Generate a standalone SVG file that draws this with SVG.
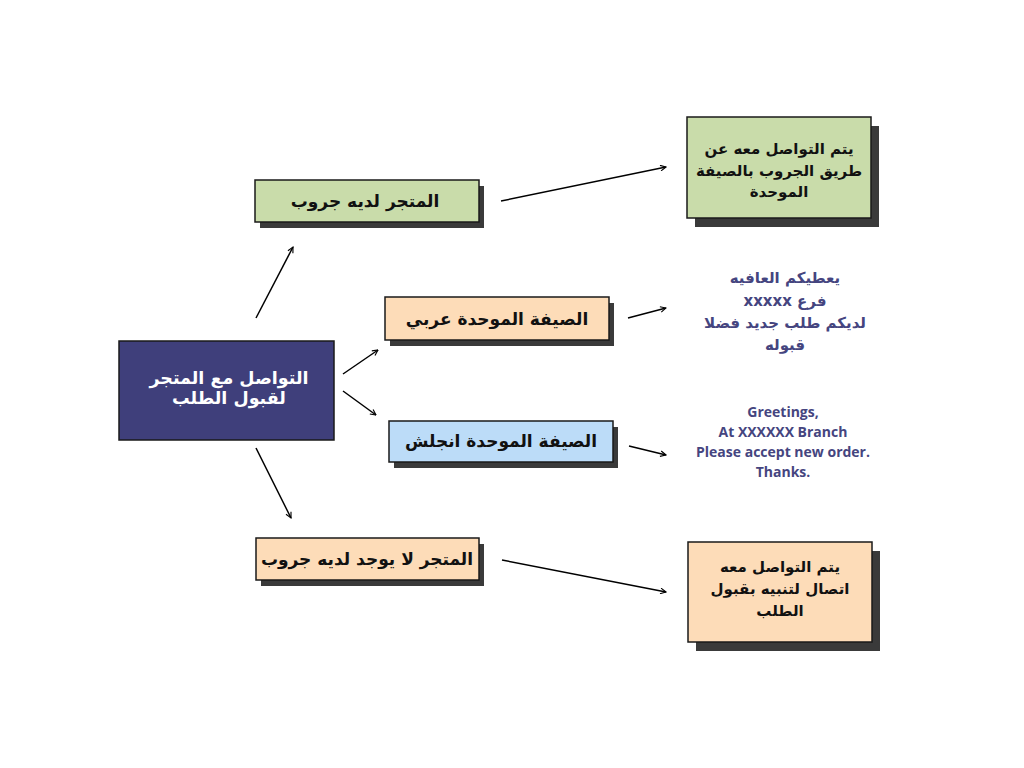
<svg xmlns="http://www.w3.org/2000/svg" width="1024" height="768" viewBox="0 0 1024 768">
<defs>
<marker id="ah" viewBox="0 0 10 10" refX="9" refY="5" markerWidth="7" markerHeight="7" markerUnits="userSpaceOnUse" orient="auto">
<path d="M1,1 L9,5 L1,9" fill="none" stroke="#000" stroke-width="1.6"/>
</marker>
</defs>
<style>
.sh{fill:#3a3a3a}
.bx{stroke:#1a1a1a;stroke-width:1.5}
.t{font-family:"DejaVu Sans","Noto Sans",sans-serif;font-weight:bold;text-anchor:middle;direction:rtl}
.lbl{font-size:17px;fill:#111}
.res{font-size:15px;fill:#111}
.blue{fill:#45457f}
.en{font-family:"Open Sans","Noto Sans",sans-serif;font-weight:bold;font-size:14px;fill:#45457f;text-anchor:middle}
.c{stroke:#000;stroke-width:1.5;fill:none;marker-end:url(#ah)}
</style>
<rect width="1024" height="768" fill="#ffffff"/>
<g id="center">
<rect x="119" y="341" width="215" height="99" fill="#3f3f7b" stroke="#1a1a1a" stroke-width="1.5"/>
<text class="t" x="229" y="384" font-size="17.5" fill="#ffffff">التواصل مع المتجر</text>
<text class="t" x="229" y="404" font-size="17.5" fill="#ffffff">لقبول الطلب</text>
</g>
<g id="has-group">
<rect class="sh" x="260" y="186" width="224" height="42"/>
<rect class="bx" x="255" y="180" width="224" height="42" fill="#c9dcaa"/>
<text class="t lbl" x="365" y="207">المتجر لديه جروب</text>
</g>
<g id="arabic-format">
<rect class="sh" x="390" y="303" width="224" height="43"/>
<rect class="bx" x="385" y="297" width="224" height="43" fill="#fddcb8"/>
<text class="t lbl" x="497" y="325">الصيفة الموحدة عربي</text>
</g>
<g id="english-format">
<rect class="sh" x="394" y="427" width="224" height="41"/>
<rect class="bx" x="389" y="421" width="224" height="41" fill="#bcdcf8"/>
<text class="t lbl" x="501" y="447">الصيفة الموحدة انجلش</text>
</g>
<g id="no-group">
<rect class="sh" x="261" y="544" width="223" height="42"/>
<rect class="bx" x="256" y="538" width="223" height="42" fill="#fddcb8"/>
<text class="t lbl" x="367" y="565">المتجر لا يوجد لديه جروب</text>
</g>
<g id="result-group">
<rect class="sh" x="695" y="126" width="184" height="101"/>
<rect class="bx" x="687" y="117" width="184" height="101" fill="#c9dcaa"/>
<text class="t res" x="779" y="154">يتم التواصل معه عن</text>
<text class="t res" x="779" y="176">طريق الجروب بالصيفة</text>
<text class="t res" x="779" y="197">الموحدة</text>
</g>
<g id="arabic-message">
<text class="t blue" font-size="15" x="785" y="283">يعطيكم العافيه</text>
<text class="t blue" font-size="15" x="785" y="306">فرع xxxxx</text>
<text class="t blue" font-size="15" x="785" y="328">لديكم طلب جديد فضلا</text>
<text class="t blue" font-size="15" x="785" y="350">قبوله</text>
</g>
<g id="english-message">
<text class="en" x="783" y="417">Greetings,</text>
<text class="en" x="783" y="437">At XXXXXX Branch</text>
<text class="en" x="783" y="457">Please accept new order.</text>
<text class="en" x="783" y="477">Thanks.</text>
</g>
<g id="result-call">
<rect class="sh" x="696" y="551" width="184" height="100"/>
<rect class="bx" x="688" y="542" width="184" height="100" fill="#fddcb8"/>
<text class="t res" x="780" y="572">يتم التواصل معه</text>
<text class="t res" x="780" y="594">اتصال لتنبيه بقبول</text>
<text class="t res" x="780" y="616">الطلب</text>
</g>
<g id="connectors">
<line class="c" x1="256" y1="318" x2="293" y2="247"/>
<line class="c" x1="343" y1="374" x2="378" y2="350"/>
<line class="c" x1="343" y1="391" x2="376" y2="415"/>
<line class="c" x1="256" y1="448" x2="291" y2="518"/>
<line class="c" x1="501" y1="201" x2="666" y2="167"/>
<line class="c" x1="628" y1="318" x2="666" y2="308"/>
<line class="c" x1="629" y1="446" x2="666" y2="455"/>
<line class="c" x1="502" y1="560" x2="666" y2="592"/>
</g>
</svg>
